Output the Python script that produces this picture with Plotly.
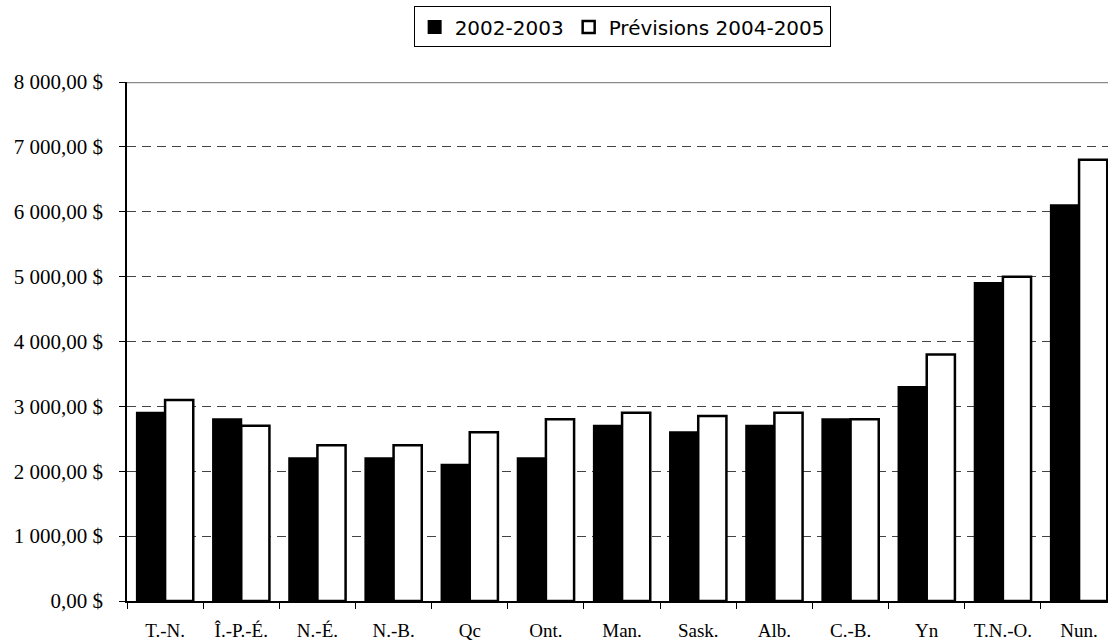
import plotly.graph_objects as go

# Provinces and territories
provinces = ["T.-N.", "Î.-P.-É.", "N.-É.", "N.-B.", "Qc", "Ont.", "Man.",
             "Sask.", "Alb.", "C.-B.", "Yn", "T.N.-O.", "Nun."]

# Amounts ($) per year
values_2002_2003 = [2900, 2800, 2200, 2200, 2100, 2200, 2700,
                    2600, 2700, 2800, 3300, 4900, 6100]
values_2004_2005 = [3100, 2700, 2400, 2400, 2600, 2800, 2900,
                    2850, 2900, 2800, 3800, 5000, 6800]

series_names = ["2002-2003", "Prévisions 2004-2005"]
y_ticks = [0, 1000, 2000, 3000, 4000, 5000, 6000, 7000, 8000]


def money(v):
    # French-style currency: space as thousands separator, comma decimals
    whole = f"{v:,.2f}".replace(",", "\u00a0").replace(".", ",")
    return whole + "\u00a0$"


y_tick_text = [money(v) for v in y_ticks]

fig = go.Figure()
fig.add_trace(go.Bar(
    x=provinces, y=values_2002_2003, name=series_names[0],
    marker=dict(color="black", line=dict(color="black", width=2)),
))
fig.add_trace(go.Bar(
    x=provinces, y=values_2004_2005, name=series_names[1],
    marker=dict(color="white", line=dict(color="black", width=2.5)),
))

# solid border line along the top of the value axis
fig.add_shape(type="line", xref="paper", yref="y", x0=0, x1=1, y0=8000, y1=8000,
              line=dict(color="#8a8a8a", width=2.5), layer="above")

fig.update_layout(
    width=1108, height=641,
    margin=dict(l=127, r=0, t=82, b=40),
    paper_bgcolor="white", plot_bgcolor="white",
    barmode="group", bargap=0.26, bargroupgap=0,
    font=dict(family="Liberation Serif, Times New Roman, serif", size=20, color="black"),
    showlegend=True,
    legend=dict(
        orientation="h", xref="container", yref="container",
        x=0.5615, xanchor="center", y=0.99, yanchor="top",
        bordercolor="black", borderwidth=1,
        font=dict(family="DejaVu Sans, Verdana, sans-serif", size=20),
        itemwidth=30, traceorder="normal",
        tracegroupgap=0,
    ),
)

fig.update_xaxes(
    type="category",
    range=[-0.5, 12.38],
    showline=True, linecolor="black", linewidth=1.5,
    ticks="outside", ticklen=6, tickcolor="black", tickwidth=1,
    tickson="boundaries",
    showgrid=False,
    ticklabelstandoff=11,
    tickfont=dict(size=19),
)

fig.update_yaxes(
    range=[0, 8000],
    tickvals=y_ticks, ticktext=y_tick_text,
    showline=True, linecolor="black", linewidth=1.5,
    ticks="outside", ticklen=6, tickcolor="black", tickwidth=1,
    showgrid=True, gridcolor="#444444", gridwidth=1, griddash="9px,6px",
    zeroline=False,
    ticklabelstandoff=12,
    tickfont=dict(size=21),
)

fig.write_html("out.html")
